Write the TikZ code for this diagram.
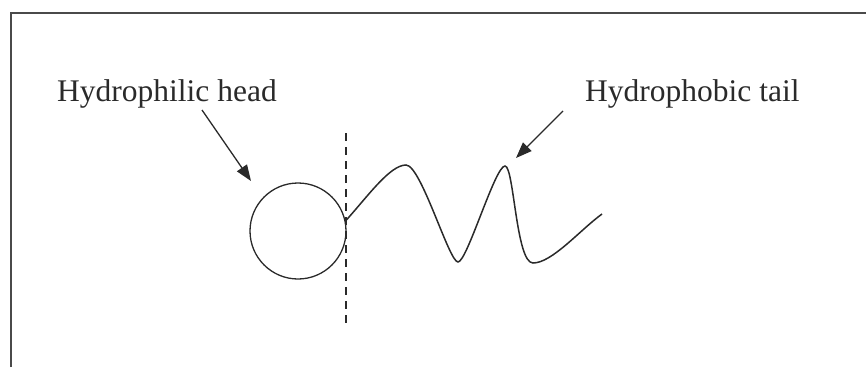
\documentclass[tikz,border=0pt]{standalone}
\usepackage{fontspec}
\setmainfont{Liberation Serif}
\usetikzlibrary{arrows.meta}
\definecolor{ink}{HTML}{2A2A2A}
\tikzset{
  lbl/.style={anchor=base west,inner sep=0pt,font=\fontsize{31.5}{36}\selectfont,text=ink},
  pointer/.style={draw=ink,line width=1.3pt,-{Triangle[length=16pt,width=12pt]}},
  curve/.style={draw=ink,line width=1.5pt},
  frameline/.style={draw=ink!85,line width=2pt}
}
\begin{document}
\begin{tikzpicture}[x=1pt,y=-1pt]
\useasboundingbox (0,0) rectangle (866,367);
% frame (top and left edges)
\coordinate (fc) at (11,13);
\coordinate (ftr) at (866,13);
\coordinate (fbl) at (11,367);
\draw[frameline] (fbl) -- (fc) -- (ftr);
% labels
\node[lbl] (philic) at (57,101.5) {Hydrophilic head};
\node[lbl] (phobic) at (585,101.5) {Hydrophobic tail};
% head
\node[circle,draw=ink,line width=1.3pt,minimum size=96pt,inner sep=0pt] (head) at (298,231) {};
% dashed divider
\coordinate (dtop) at (346,133);
\coordinate (dbot) at (346,325);
\draw[draw=ink,line width=1.6pt,dash pattern=on 8pt off 6pt] (dtop) -- (dbot);
% tail
\draw[curve] (head.12) .. controls (368,196) and (390,165) .. (406,165)
  .. controls (421,165) and (449,262) .. (458,262)
  .. controls (467,262) and (495,166) .. (505,166)
  .. controls (514,166) and (516,263) .. (533,263)
  .. controls (552,263) and (580,230) .. (602,214);
% arrows
\coordinate (a1s) at (202,110);
\coordinate (a1e) at (251,181);
\coordinate (a2s) at (563,111);
\coordinate (a2e) at (516,158);
\draw[pointer] (a1s) -- (a1e);
\draw[pointer] (a2s) -- (a2e);
\end{tikzpicture}
\end{document}
